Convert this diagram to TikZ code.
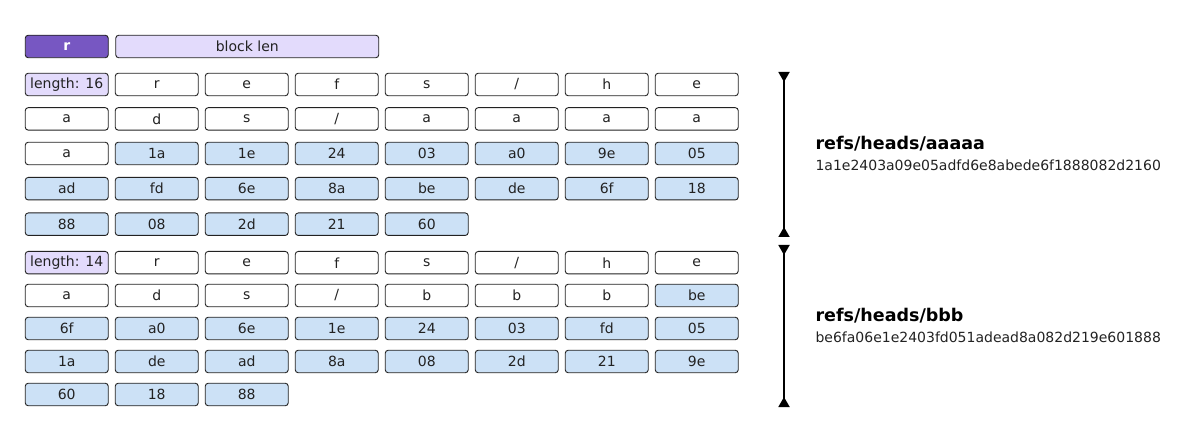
\documentclass[tikz,border=0pt]{standalone}
\usepackage{fontspec}
\setmainfont{DejaVu Sans}
\usetikzlibrary{arrows.meta}
\definecolor{purpledark}{HTML}{7757C2}
\definecolor{purplelight}{HTML}{E3DBFC}
\definecolor{bluelight}{HTML}{CCE1F6}
\definecolor{edge}{HTML}{222222}
\tikzset{
  cell/.style={draw=edge, line width=0.9pt, rounded corners=3pt, minimum width=83pt,
    minimum height=22.5pt, inner sep=0pt, font=\fontsize{14}{16}\selectfont, text=edge, anchor=north west},
  wcell/.style={cell, fill=white},
  bcell/.style={cell, fill=bluelight},
  pcell/.style={cell, fill=purplelight},
  dcell/.style={cell, fill=purpledark, text=white, font=\bfseries\fontsize{14}{16}\selectfont},
  dimline/.style={line width=1.8pt, {Triangle[reversed,length=10pt,width=11pt]}-{Triangle[reversed,length=10pt,width=11pt]}},
  title/.style={anchor=base west, font=\bfseries\fontsize{17.5}{20}\selectfont, text=black},
  hash/.style={anchor=base west, font=\fontsize{14}{16}\selectfont, text=edge},
}
\newcommand\mycell[5]{\node[#4] (#1) at ({24.8+90*#2},#3) {#5};}
\begin{document}
\begin{tikzpicture}[x=1pt,y=-1pt]
\useasboundingbox (0,0) rectangle (1200,438);
% header
\mycell{hr}{0}{34.8}{dcell}{r}
\node[cell, fill=purplelight, minimum width=263pt] (hb) at (115.3,34.8) {block len};
% block 1
\def\ra{72.8}\def\rb{107.2}\def\rc{141.8}\def\rd{177}\def\re{212.5}
\mycell{a00}{0}{\ra}{pcell}{length: 16}
\mycell{a01}{1}{\ra}{wcell}{r}
\mycell{a02}{2}{\ra}{wcell}{e}
\mycell{a03}{3}{\ra}{wcell}{f}
\mycell{a04}{4}{\ra}{wcell}{s}
\mycell{a05}{5}{\ra}{wcell}{/}
\mycell{a06}{6}{\ra}{wcell}{h}
\mycell{a07}{7}{\ra}{wcell}{e}
\mycell{a10}{0}{\rb}{wcell}{a}
\mycell{a11}{1}{\rb}{wcell}{d}
\mycell{a12}{2}{\rb}{wcell}{s}
\mycell{a13}{3}{\rb}{wcell}{/}
\mycell{a14}{4}{\rb}{wcell}{a}
\mycell{a15}{5}{\rb}{wcell}{a}
\mycell{a16}{6}{\rb}{wcell}{a}
\mycell{a17}{7}{\rb}{wcell}{a}
\mycell{a20}{0}{\rc}{wcell}{a}
\mycell{a21}{1}{\rc}{bcell}{1a}
\mycell{a22}{2}{\rc}{bcell}{1e}
\mycell{a23}{3}{\rc}{bcell}{24}
\mycell{a24}{4}{\rc}{bcell}{03}
\mycell{a25}{5}{\rc}{bcell}{a0}
\mycell{a26}{6}{\rc}{bcell}{9e}
\mycell{a27}{7}{\rc}{bcell}{05}
\mycell{a30}{0}{\rd}{bcell}{ad}
\mycell{a31}{1}{\rd}{bcell}{fd}
\mycell{a32}{2}{\rd}{bcell}{6e}
\mycell{a33}{3}{\rd}{bcell}{8a}
\mycell{a34}{4}{\rd}{bcell}{be}
\mycell{a35}{5}{\rd}{bcell}{de}
\mycell{a36}{6}{\rd}{bcell}{6f}
\mycell{a37}{7}{\rd}{bcell}{18}
\mycell{a40}{0}{\re}{bcell}{88}
\mycell{a41}{1}{\re}{bcell}{08}
\mycell{a42}{2}{\re}{bcell}{2d}
\mycell{a43}{3}{\re}{bcell}{21}
\mycell{a44}{4}{\re}{bcell}{60}
% block 2
\def\sa{251}\def\sb{283.8}\def\sc{316.8}\def\sd{349.8}\def\se{382.8}
\mycell{b00}{0}{\sa}{pcell}{length: 14}
\mycell{b01}{1}{\sa}{wcell}{r}
\mycell{b02}{2}{\sa}{wcell}{e}
\mycell{b03}{3}{\sa}{wcell}{f}
\mycell{b04}{4}{\sa}{wcell}{s}
\mycell{b05}{5}{\sa}{wcell}{/}
\mycell{b06}{6}{\sa}{wcell}{h}
\mycell{b07}{7}{\sa}{wcell}{e}
\mycell{b10}{0}{\sb}{wcell}{a}
\mycell{b11}{1}{\sb}{wcell}{d}
\mycell{b12}{2}{\sb}{wcell}{s}
\mycell{b13}{3}{\sb}{wcell}{/}
\mycell{b14}{4}{\sb}{wcell}{b}
\mycell{b15}{5}{\sb}{wcell}{b}
\mycell{b16}{6}{\sb}{wcell}{b}
\mycell{b17}{7}{\sb}{bcell}{be}
\mycell{b20}{0}{\sc}{bcell}{6f}
\mycell{b21}{1}{\sc}{bcell}{a0}
\mycell{b22}{2}{\sc}{bcell}{6e}
\mycell{b23}{3}{\sc}{bcell}{1e}
\mycell{b24}{4}{\sc}{bcell}{24}
\mycell{b25}{5}{\sc}{bcell}{03}
\mycell{b26}{6}{\sc}{bcell}{fd}
\mycell{b27}{7}{\sc}{bcell}{05}
\mycell{b30}{0}{\sd}{bcell}{1a}
\mycell{b31}{1}{\sd}{bcell}{de}
\mycell{b32}{2}{\sd}{bcell}{ad}
\mycell{b33}{3}{\sd}{bcell}{8a}
\mycell{b34}{4}{\sd}{bcell}{08}
\mycell{b35}{5}{\sd}{bcell}{2d}
\mycell{b36}{6}{\sd}{bcell}{21}
\mycell{b37}{7}{\sd}{bcell}{9e}
\mycell{b40}{0}{\se}{bcell}{60}
\mycell{b41}{1}{\se}{bcell}{18}
\mycell{b42}{2}{\se}{bcell}{88}
% dimension lines
\coordinate (d1t) at (784,72);
\coordinate (d1b) at (784,237);
\coordinate (d2t) at (784,245);
\coordinate (d2b) at (784,407);
\draw[dimline] (d1t) -- (d1b);
\draw[dimline] (d2t) -- (d2b);
% labels
\node[title] (t1) at (812,150) {refs/heads/aaaaa};
\node[hash] (h1) at (812,170.5) {1a1e2403a09e05adfd6e8abede6f1888082d2160};
\node[title] (t2) at (812,321.7) {refs/heads/bbb};
\node[hash] (h2) at (812,343) {be6fa06e1e2403fd051adead8a082d219e601888};
\end{tikzpicture}
\end{document}
